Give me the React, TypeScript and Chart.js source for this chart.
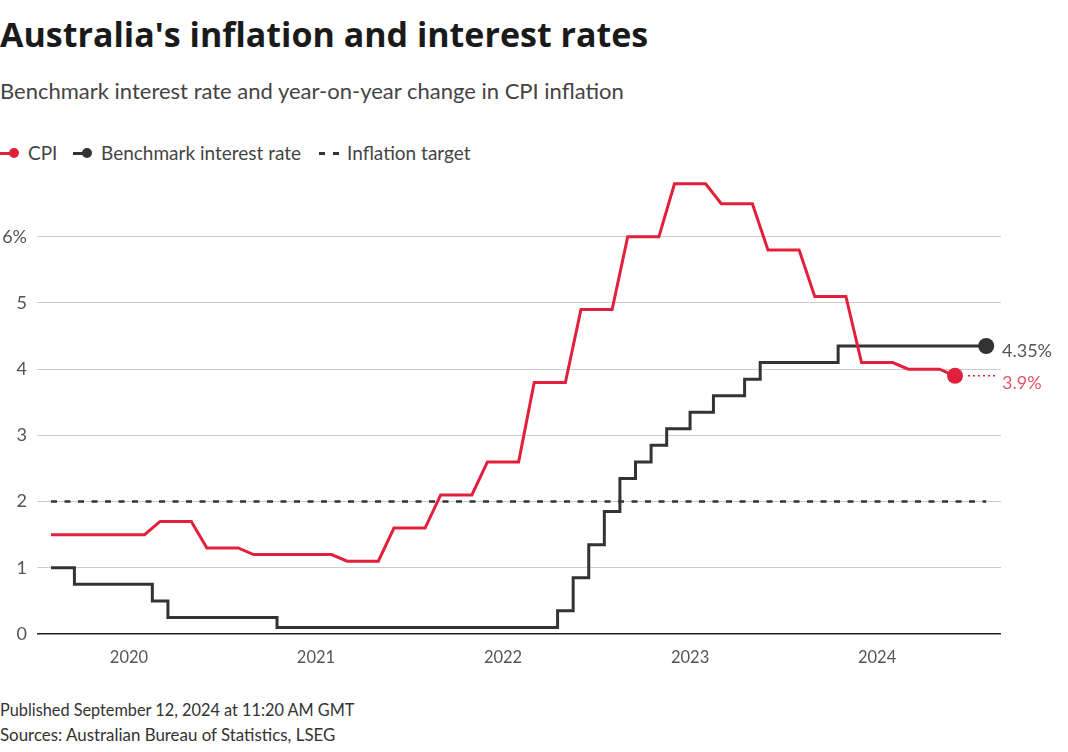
import React, { useEffect, useRef } from "react";
import { Chart, registerables } from "chart.js";

Chart.register(...registerables);

const FONT = "Lato, 'Noto Sans', sans-serif";
const TITLE_FONT = "'Open Sans', Lato, sans-serif";
const RED = "#e3203b";
const DARK = "#333333";

// Category axis: months, and year tick labels
const yearTicks = [2020, 2021, 2022, 2023, 2024];
const yTicks = [0, 1, 2, 3, 4, 5, 6];

// CPI, year-on-year %, monthly points starting Aug 2019 (quarterly values held)
const cpiStart = "2019-08";
const cpiValues = [
  1.5, 1.5, 1.5, 1.5, 1.5, 1.5, 1.5,
  1.7, 1.7, 1.7,
  1.3, 1.3, 1.3,
  1.2, 1.2, 1.2, 1.2, 1.2, 1.2,
  1.1, 1.1, 1.1,
  1.6, 1.6, 1.6,
  2.1, 2.1, 2.1,
  2.6, 2.6, 2.6,
  3.8, 3.8, 3.8,
  4.9, 4.9, 4.9,
  6.0, 6.0, 6.0,
  6.8, 6.8, 6.8,
  6.5, 6.5, 6.5,
  5.8, 5.8, 5.8,
  5.1, 5.1, 5.1,
  4.1, 4.1, 4.1,
  4.0, 4.0, 4.0,
  3.9,
];

// Benchmark interest rate at each RBA meeting month (no January meetings)
const rateMonths = [
  "2019-08", "2019-09", "2019-10", "2019-11", "2019-12",
  "2020-02", "2020-03", "2020-04", "2020-05", "2020-06", "2020-07", "2020-08", "2020-09", "2020-10", "2020-11", "2020-12",
  "2021-02", "2021-03", "2021-04", "2021-05", "2021-06", "2021-07", "2021-08", "2021-09", "2021-10", "2021-11", "2021-12",
  "2022-02", "2022-03", "2022-04", "2022-05", "2022-06", "2022-07", "2022-08", "2022-09", "2022-10", "2022-11", "2022-12",
  "2023-02", "2023-03", "2023-04", "2023-05", "2023-06", "2023-07", "2023-08", "2023-09", "2023-10", "2023-11", "2023-12",
  "2024-02", "2024-03", "2024-04", "2024-05", "2024-06", "2024-07", "2024-08",
];
const rateValues = [
  1.0, 1.0, 0.75, 0.75, 0.75,
  0.75, 0.5, 0.25, 0.25, 0.25, 0.25, 0.25, 0.25, 0.25, 0.1, 0.1,
  0.1, 0.1, 0.1, 0.1, 0.1, 0.1, 0.1, 0.1, 0.1, 0.1, 0.1,
  0.1, 0.1, 0.1, 0.35, 0.85, 1.35, 1.85, 2.35, 2.6, 2.85, 3.1,
  3.35, 3.6, 3.6, 3.85, 4.1, 4.1, 4.1, 4.1, 4.1, 4.35, 4.35,
  4.35, 4.35, 4.35, 4.35, 4.35, 4.35, 4.35,
];

// Inflation target
const targetMonths = ["2019-08", "2024-08"];
const targetValues = [2, 2];

function monthIndex(s: string): number {
  const [y, m] = s.split("-").map(Number);
  return (y - 2019) * 12 + (m - 1);
}

const endLabels = {
  id: "endLabels",
  afterDatasetsDraw(chart: any) {
    const ctx = chart.ctx;
    const area = chart.chartArea;
    const cpiMeta = chart.getDatasetMeta(0);
    const rateMeta = chart.getDatasetMeta(1);
    const cpiPt = cpiMeta.data[cpiMeta.data.length - 1];
    const ratePt = rateMeta.data[rateMeta.data.length - 1];
    ctx.save();
    ctx.strokeStyle = RED;
    ctx.lineWidth = 1.5;
    ctx.setLineDash([2, 3]);
    ctx.beginPath();
    ctx.moveTo(cpiPt.x + 13, cpiPt.y);
    ctx.lineTo(area.right - 6, cpiPt.y);
    ctx.stroke();
    ctx.setLineDash([]);
    ctx.font = `18px ${FONT}`;
    ctx.textAlign = "left";
    ctx.textBaseline = "middle";
    ctx.fillStyle = "#555555";
    ctx.fillText(`${rateValues[rateValues.length - 1]}%`, area.right + 1, ratePt.y + 5);
    ctx.fillStyle = "#e8546a";
    ctx.fillText(`${cpiValues[cpiValues.length - 1]}%`, area.right + 1, cpiPt.y + 7);
    ctx.restore();
  },
};

function ChartView() {
  const ref = useRef<HTMLCanvasElement | null>(null);
  useEffect(() => {
    if (!ref.current) return;
    const s0 = monthIndex(cpiStart);
    const cpiData = cpiValues.map((v, i) => ({ x: s0 + i, y: v }));
    const rateData = rateMonths.map((m, i) => ({ x: monthIndex(m), y: rateValues[i] }));
    const targetData = targetMonths.map((m, i) => ({ x: monthIndex(m), y: targetValues[i] }));
    const lastR = (n: number, r: number) => (c: any) => (c.dataIndex === n - 1 ? r : 0);
    const chart = new Chart(ref.current, {
      type: "line",
      data: {
        datasets: [
          {
            label: "CPI",
            data: cpiData,
            borderColor: RED,
            backgroundColor: RED,
            borderWidth: 3,
            pointRadius: lastR(cpiData.length, 8),
            pointBorderWidth: 0,
            pointBackgroundColor: RED,
            borderJoinStyle: "miter",
            order: 0,
          },
          {
            label: "Benchmark interest rate",
            data: rateData,
            borderColor: DARK,
            backgroundColor: DARK,
            borderWidth: 3,
            stepped: "middle",
            pointRadius: lastR(rateData.length, 8),
            pointBorderWidth: 0,
            pointBackgroundColor: DARK,
            borderJoinStyle: "miter",
            order: 1,
          },
          {
            label: "Inflation target",
            data: targetData,
            borderColor: DARK,
            borderWidth: 2.5,
            borderDash: [6, 7.5],
            pointRadius: 0,
            order: 2,
          },
        ],
      },
      options: {
        animation: false,
        responsive: false,
        events: [],
        layout: { padding: { top: 10.6, right: 67, left: 0, bottom: 0 } },
        plugins: { legend: { display: false }, tooltip: { enabled: false } },
        scales: {
          x: {
            type: "linear",
            min: 6.1,
            max: 67.95,
            grid: { display: false, drawTicks: false },
            border: { display: false },
            afterBuildTicks: (axis: any) => {
              axis.ticks = yearTicks.map((y) => ({ value: monthIndex(`${y}-01`) }));
            },
            afterFit: (axis: any) => {
              axis.height = 47;
              axis.paddingLeft = 0;
              axis.paddingRight = 0;
            },
            ticks: {
              padding: 14,
              color: "#555555",
              font: { family: FONT, size: 16.5 },
              maxRotation: 0,
              callback: (v: any) => String(2019 + Number(v) / 12),
            },
          },
          y: {
            min: 0,
            max: 7,
            grid: {
              drawTicks: false,
              color: (c: any) => (c.tick && c.tick.value === 0 ? "#222222" : "#cccccc"),
              lineWidth: (c: any) => (c.tick && c.tick.value === 0 ? 1.5 : 1),
            },
            border: { display: false },
            afterBuildTicks: (axis: any) => {
              axis.ticks = yTicks.map((v) => ({ value: v }));
            },
            afterFit: (axis: any) => {
              axis.width = 37;
              axis.paddingTop = 0;
              axis.paddingBottom = 0;
            },
            ticks: {
              padding: 10,
              color: "#555555",
              font: { family: FONT, size: 18 },
              callback: (v: any) => (Number(v) === 6 ? "6%" : String(v)),
            },
          },
        },
      },
      plugins: [endLabels],
    });
    return () => chart.destroy();
  }, []);
  return (
    <canvas
      ref={ref}
      width={1068}
      height={521}
      style={{ position: "absolute", left: 0, top: 160, width: 1068, height: 521 }}
    />
  );
}

function Text(props: { x: number; y: number; size: number; weight?: number; color: string; family?: string; children: any }) {
  return (
    <div
      style={{
        position: "absolute",
        left: props.x,
        top: props.y,
        fontFamily: props.family || FONT,
        fontSize: props.size,
        fontWeight: props.weight || 400,
        color: props.color,
        lineHeight: 1,
        whiteSpace: "nowrap",
      }}
    >
      {props.children}
    </div>
  );
}

export default function App() {
  return (
    <div style={{ position: "absolute", left: 0, top: 0, width: 1068, height: 752, background: "#fff", overflow: "hidden" }}>
      <Text x={0} y={17} size={34} weight={700} color="#1a1a1a" family={TITLE_FONT}>
        Australia's inflation and interest rates
      </Text>
      <Text x={0} y={80} size={22} color="#444444">
        Benchmark interest rate and year-on-year change in CPI inflation
      </Text>
      {/* legend */}
      <div style={{ position: "absolute", left: 0, top: 151.5, width: 12, height: 3, background: RED }} />
      <div style={{ position: "absolute", left: 9, top: 148, width: 10, height: 10, borderRadius: 5, background: RED }} />
      <Text x={28} y={143} size={19} color="#444444">CPI</Text>
      <div style={{ position: "absolute", left: 73, top: 151.5, width: 12, height: 3, background: DARK }} />
      <div style={{ position: "absolute", left: 82, top: 148, width: 10, height: 10, borderRadius: 5, background: DARK }} />
      <Text x={101} y={143} size={19} color="#444444">Benchmark interest rate</Text>
      <div style={{ position: "absolute", left: 319, top: 151.5, width: 6, height: 3, background: DARK }} />
      <div style={{ position: "absolute", left: 333, top: 151.5, width: 6, height: 3, background: DARK }} />
      <Text x={347} y={143} size={19} color="#444444">Inflation target</Text>
      <ChartView />
      <Text x={0} y={702} size={16.3} color="#333333">Published September 12, 2024 at 11:20 AM GMT</Text>
      <Text x={0} y={727} size={16.9} color="#333333">Sources: Australian Bureau of Statistics, LSEG</Text>
    </div>
  );
}
